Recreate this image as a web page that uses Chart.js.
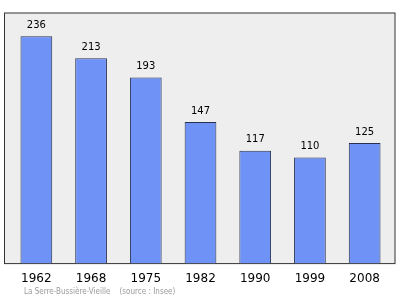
<!DOCTYPE html>
<html>
<head>
<meta charset="utf-8">
<script src="https://cdn.jsdelivr.net/npm/chart.js@4/dist/chart.umd.min.js"></script>
<style>
  html, body { margin: 0; padding: 0; background: #ffffff; }
  canvas { display: block; }
</style>
</head>
<body>
<canvas id="popChart" width="400" height="299"></canvas>
<script>
// Population data (source: Insee)
const years = ['1962', '1968', '1975', '1982', '1990', '1999', '2008'];
const population = [236, 213, 193, 147, 117, 110, 125];
const sourceNote = 'La Serre-Bussière-Vieille    (source : Insee)';

// gray plot frame, a bit wider than the chart area
const frame = {
    id: 'frame',
    beforeDatasetsDraw(chart) {
        const { ctx, chartArea } = chart;
        const x0 = chartArea.left - 4.5, x1 = chartArea.right + 3;
        const y0 = chartArea.top, y1 = chartArea.bottom;
        ctx.save();
        ctx.fillStyle = '#eeeeee';
        ctx.fillRect(x0, y0, x1 - x0, y1 - y0);
        ctx.strokeStyle = '#333333';
        ctx.lineWidth = 1;
        ctx.strokeRect(x0, y0, x1 - x0, y1 - y0);
        ctx.restore();
    },
    afterDraw(chart) {
        const { ctx } = chart;
        ctx.save();
        ctx.font = '8px "DejaVu Sans Condensed", "Liberation Sans Narrow", sans-serif';
        ctx.fillStyle = '#9a9a9a';
        ctx.textBaseline = 'middle';
        ctx.fillText(sourceNote, 24, 292);
        ctx.restore();
    }
};

// value labels above each bar
const valueLabels = {
    id: 'valueLabels',
    afterDatasetsDraw(chart) {
        const { ctx } = chart;
        const meta = chart.getDatasetMeta(0);
        ctx.save();
        ctx.font = '10px "DejaVu Sans", sans-serif';
        ctx.fillStyle = '#000000';
        ctx.textAlign = 'center';
        ctx.textBaseline = 'bottom';
        meta.data.forEach((bar, i) => {
            ctx.fillText(population[i], bar.x, bar.y - 6);
        });
        ctx.restore();
    }
};

new Chart(document.getElementById('popChart').getContext('2d'), {
    type: 'bar',
    data: {
        labels: years,
        datasets: [{
            data: population,
            backgroundColor: '#6f92f7',
            borderColor: '#27314f',
            borderWidth: 1,
            borderSkipped: 'bottom',
            barPercentage: 0.58,
            categoryPercentage: 1
        }]
    },
    options: {
        responsive: false,
        animation: false,
        layout: { padding: { left: 9, right: 8, top: 13, bottom: 5 } },
        plugins: {
            legend: { display: false },
            tooltip: { enabled: false }
        },
        scales: {
            x: {
                grid: { display: false, drawTicks: false },
                border: { display: false },
                ticks: {
                    color: '#000000',
                    font: { family: '"DejaVu Sans", sans-serif', size: 12 },
                    padding: 8
                }
            },
            y: {
                display: false,
                min: 0,
                max: 260
            }
        }
    },
    plugins: [frame, valueLabels]
});
</script>
</body>
</html>
